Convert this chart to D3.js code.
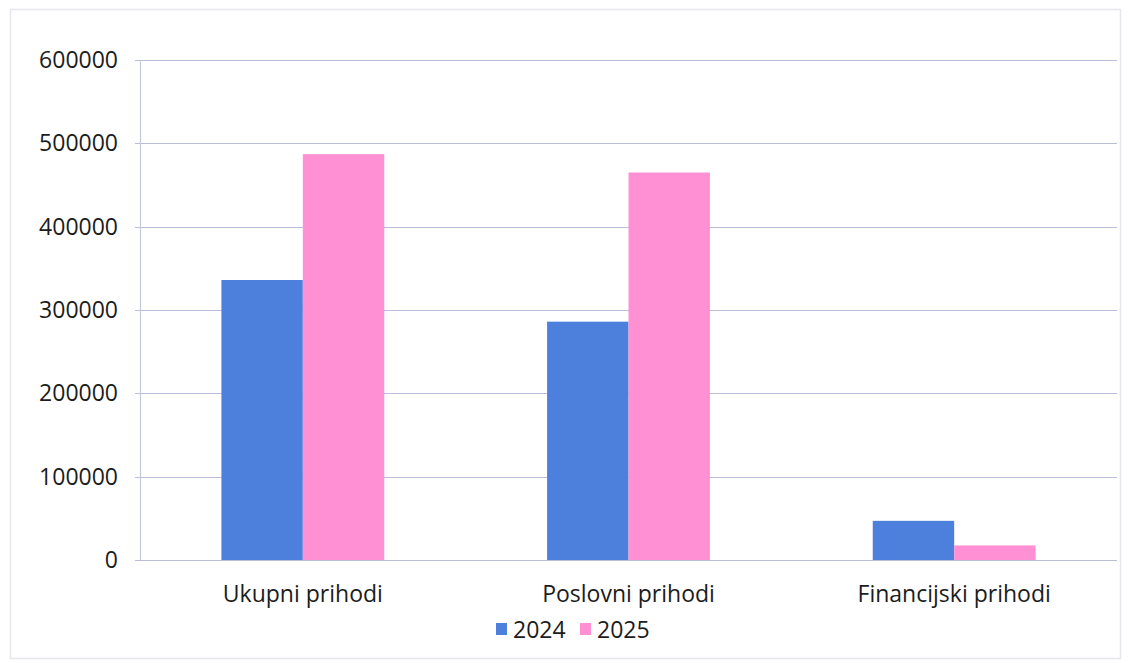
<!DOCTYPE html>
<html>
<head>
<meta charset="utf-8">
<script src="https://cdn.jsdelivr.net/npm/d3@7"></script>
<style>
  html, body { margin: 0; padding: 0; background: #ffffff; }
  svg { display: block; }
  text { font-family: "Open Sans", "Noto Sans", sans-serif; fill: #1c1c1c; }
</style>
</head>
<body>
<svg id="chart" width="1130" height="663"></svg>
<script>
const categories = ["Ukupni prihodi", "Poslovni prihodi", "Financijski prihodi"];
const seriesNames = ["2024", "2025"];
const values2024 = [336000, 286000, 47000];
const values2025 = [487000, 465000, 17500];
const yTicks = [0, 100000, 200000, 300000, 400000, 500000, 600000];
const seriesColors = ["#4d80dc", "#ff90d4"];

const svg = d3.select("#chart");
const margin = { left: 140, right: 13, top: 60, bottom: 103 };
const W = 1130, H = 663;
const x0 = margin.left, x1 = W - margin.right;
const yTop = margin.top, yBottom = H - margin.bottom;
const fontSize = "23px";

// faint outer frame
svg.append("rect")
  .attr("x", 10.5).attr("y", 9.5)
  .attr("width", 1110).attr("height", 649)
  .attr("fill", "none").attr("stroke", "#e6e6ee").attr("stroke-width", 1.5);

const x = d3.scaleBand().domain(categories).range([x0, x1]).paddingInner(0).paddingOuter(0);
const xs = d3.scaleBand().domain(seriesNames).range([0, x.bandwidth()]).paddingInner(0).paddingOuter(1);
const y = d3.scaleLinear().domain([0, 600000]).range([yBottom, yTop]);

// gridlines
svg.append("g")
  .selectAll("line").data(yTicks).join("line")
  .attr("x1", x0 - 5).attr("x2", x1)
  .attr("y1", d => Math.round(y(d)) + 0.5).attr("y2", d => Math.round(y(d)) + 0.5)
  .attr("stroke", "#b9bdda").attr("stroke-width", 1.2);

// y axis line
svg.append("line")
  .attr("x1", x0 + 0.5).attr("x2", x0 + 0.5)
  .attr("y1", yTop).attr("y2", yBottom)
  .attr("stroke", "#c6c9e0").attr("stroke-width", 1.2);

// y tick labels
const yAxis = d3.axisLeft(y).tickValues(yTicks).tickFormat(d => String(d)).tickSize(0).tickPadding(22);
const gy = svg.append("g").attr("transform", `translate(${x0},0)`).call(yAxis);
gy.select(".domain").remove();
gy.selectAll("text").style("font-size", fontSize).attr("fill", "#1c1c1c").attr("font-family", "Open Sans");

// bars
const data = categories.map((c, i) => ({ cat: c, vals: [values2024[i], values2025[i]] }));
const groups = svg.append("g").selectAll("g").data(data).join("g")
  .attr("transform", d => `translate(${x(d.cat)},0)`);
groups.selectAll("rect").data(d => d.vals.map((v, j) => ({ s: seriesNames[j], v, j })))
  .join("rect")
  .attr("x", d => xs(d.s))
  .attr("width", xs.bandwidth())
  .attr("y", d => y(d.v))
  .attr("height", d => yBottom - y(d.v))
  .attr("fill", d => seriesColors[d.j]);

// x axis labels
const xAxis = d3.axisBottom(x).tickSize(0).tickPadding(26);
const gx = svg.append("g").attr("transform", `translate(0,${yBottom})`).call(xAxis);
gx.select(".domain").remove();
gx.selectAll("text").style("font-size", fontSize).attr("fill", "#1c1c1c").attr("font-family", "Open Sans");

// legend
const legend = svg.append("g").attr("transform", "translate(496,0)");
const legendItems = [{ name: seriesNames[0], color: seriesColors[0], dx: 0 }, { name: seriesNames[1], color: seriesColors[1], dx: 84 }];
const li = legend.selectAll("g").data(legendItems).join("g").attr("transform", d => `translate(${d.dx},0)`);
li.append("rect").attr("x", 0).attr("y", 623).attr("width", 11).attr("height", 12).attr("fill", d => d.color);
li.append("text").attr("x", 17).attr("y", 629).attr("dominant-baseline", "central")
  .style("font-size", fontSize).text(d => d.name);
</script>
</body>
</html>
